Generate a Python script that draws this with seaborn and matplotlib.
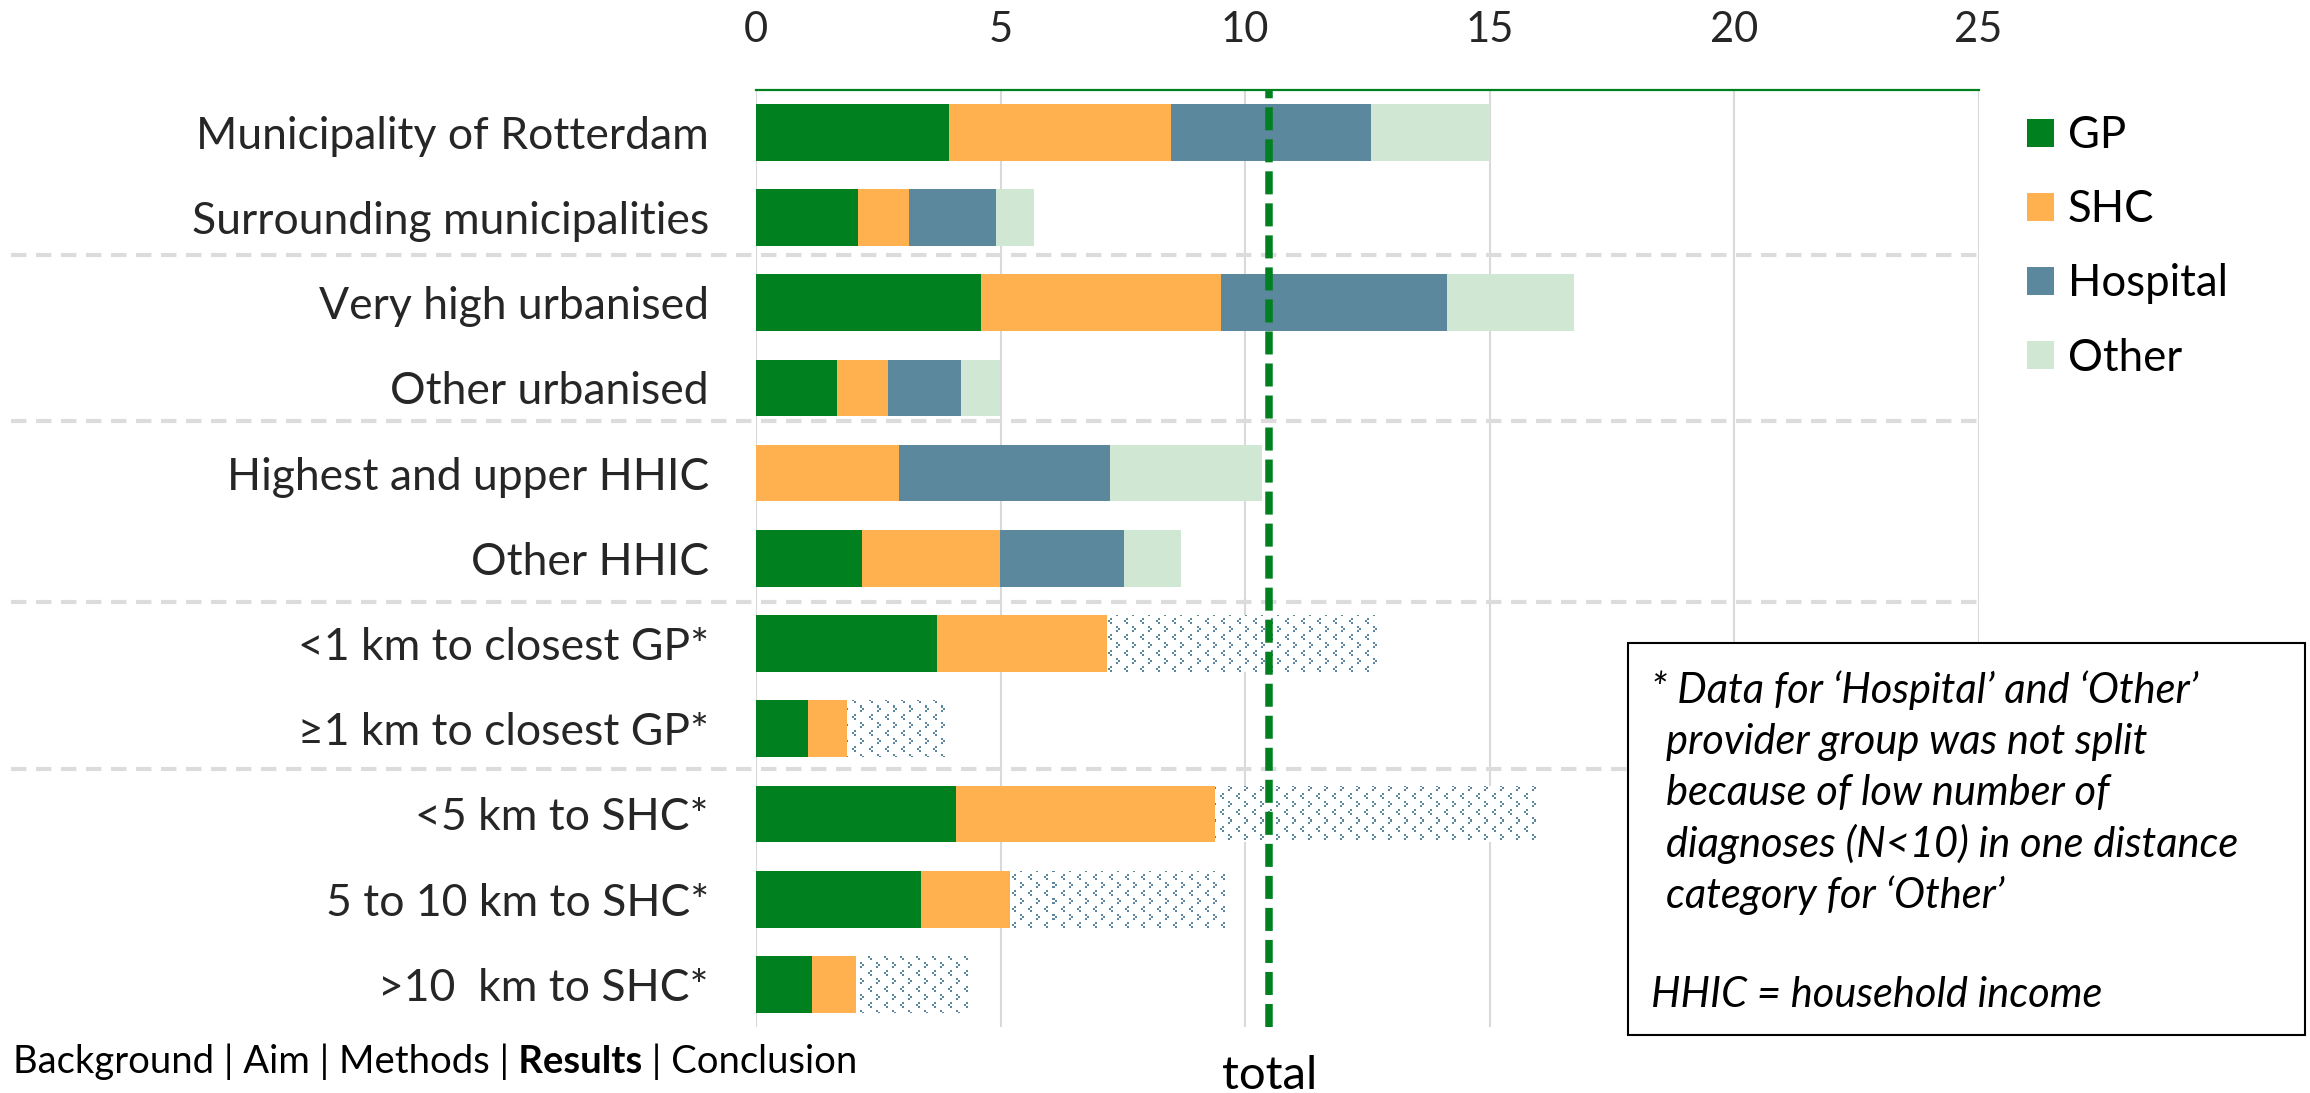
import numpy as np
import pandas as pd
import matplotlib
matplotlib.use("Agg")
import matplotlib.pyplot as plt
import seaborn as sns
from matplotlib.patches import Patch, Rectangle
from matplotlib import transforms
from matplotlib.colors import to_rgb

# ---- data ---------------------------------------------------------------
categories = [
    "Municipality of Rotterdam",
    "Surrounding municipalities",
    "Very high urbanised",
    "Other urbanised",
    "Highest and upper HHIC",
    "Other HHIC",
    "<1 km to closest GP*",
    "\u22651 km to closest GP*",
    "<5 km to SHC*",
    "5 to 10 km to SHC*",
    ">10  km to SHC*",
]
gp = [3.95, 2.08, 4.61, 1.66, 0.00, 2.17, 3.71, 1.06, 4.10, 3.38, 1.14]
shc = [4.54, 1.04, 4.89, 1.03, 2.93, 2.82, 3.47, 0.81, 5.29, 1.82, 0.91]
hospital = [4.08, 1.79, 4.64, 1.51, 4.31, 2.54, np.nan, np.nan, np.nan, np.nan, np.nan]
other = [2.44, 0.78, 2.58, 0.78, 3.11, 1.17, np.nan, np.nan, np.nan, np.nan, np.nan]
# Hospital + Other combined where the split was not possible
hospital_other = [np.nan] * 6 + [5.51, 2.04, 6.56, 4.44, 2.28]
total_rate = 10.5
x_ticks = [0, 5, 10, 15, 20, 25]
group_breaks = [1.44, 3.39, 5.51, 7.47]
legend_labels = ["GP", "SHC", "Hospital", "Other"]

note_lines = [
    "* Data for \u2018Hospital\u2019 and \u2018Other\u2019",
    "provider group was not split",
    "because of low number of",
    "diagnoses (N<10) in one distance",
    "category for \u2018Other\u2019",
]
note_footer = "HHIC = household income"
nav_items = [("Background | Aim | Methods |", "normal"),
             (" Results", "bold"),
             (" | Conclusion", "normal")]

# ---- style --------------------------------------------------------------
C_GP = "#00801F"
C_SHC = "#FFB14F"
C_HOSP = "#5B889C"
C_OTHER = "#CFE7D3"
C_GRID = "#D9D9D9"
C_SEP = "#DCDCDC"

sns.set_theme(style="white")
FONT = ["Lato", "DejaVu Sans"]
plt.rcParams["font.family"] = FONT
plt.rcParams["text.color"] = "black"

W_PX, H_PX = 2310, 1093
fig = plt.figure(figsize=(W_PX / 100, H_PX / 100), dpi=100)
fig.patch.set_facecolor("white")

ax_l, ax_r, ax_t, ax_b = 756, 1978.5, 89.7, 1027.0
ax = fig.add_axes([ax_l / W_PX, 1 - ax_b / H_PX,
                   (ax_r - ax_l) / W_PX, (ax_b - ax_t) / H_PX])

df = pd.DataFrame({
    "category": categories, "gp": gp, "shc": shc, "hospital": hospital,
    "other": other, "hospital_other": hospital_other,
})
split = df["hospital"].notna()
df["cum_shc"] = df["gp"] + df["shc"]
df["cum_hosp"] = df["cum_shc"] + df["hospital"]
df["cum_total"] = np.where(split, df["cum_hosp"] + df["other"],
                           df["cum_shc"] + df["hospital_other"])

BAR_W = 0.665


def layer(values, color, z):
    n0 = len(ax.patches)
    sns.barplot(x=values, y=df["category"], order=categories, orient="h",
                color=color, saturation=1, width=BAR_W, linewidth=0,
                errorbar=None, zorder=z, ax=ax)
    return ax.patches[n0:]


# stacked bars drawn back to front as cumulative lengths
layer(np.where(split, df["cum_total"], 0.0), C_OTHER, 1.0)
unsplit_bars = layer(np.where(~split, df["cum_total"], 0.0), "white", 1.0)
layer(np.where(split, df["cum_hosp"], 0.0), C_HOSP, 2.0)
layer(df["cum_shc"].values, C_SHC, 2.0)
layer(df["gp"].values, C_GP, 2.0)

n_cat = len(categories)
ax.set_xlim(0, 25)
ax.set_ylim(n_cat - 0.5, -0.5)

# zig-zag pattern fill for the unsplit Hospital/Other segment
hp = int(round(ax_b - ax_t))
wp = int(round(ax_r - ax_l))
tile = np.zeros((16, 16))
dots = [(0, 2), (2, 0), (4, 2),        # "<"
        (8, 8), (10, 10), (12, 8)]     # ">"
for r, c in dots:
    tile[r:r + 2, c:c + 2] = 1.0
mask = np.tile(tile, (hp // 16 + 1, wp // 16 + 1))[:hp, :wp]
tex = np.zeros((hp, wp, 4))
tex[..., :3] = to_rgb(C_HOSP)
tex[..., 3] = mask
for bar in unsplit_bars:
    if bar.get_width() <= 0:
        continue
    im = ax.imshow(tex, extent=(0, 25, n_cat - 0.5, -0.5),
                   origin="upper", aspect="auto", interpolation="nearest",
                   zorder=1.5)
    im.set_clip_path(bar)
ax.set_xlim(0, 25)
ax.set_ylim(n_cat - 0.5, -0.5)

# axes decoration
ax.set_xlabel("")
ax.set_ylabel("")
ax.set_xticks(x_ticks)
ax.xaxis.set_ticks_position("top")
ax.tick_params(axis="x", length=0, pad=29, labelsize=30)
ax.tick_params(axis="y", length=0, pad=34, labelsize=32)
for lab in ax.get_yticklabels() + ax.get_xticklabels():
    lab.set_family(FONT)
ax.grid(axis="x", color=C_GRID, linewidth=1.5)
ax.grid(axis="y", visible=False)
ax.set_axisbelow(True)
for side in ("left", "right", "bottom"):
    ax.spines[side].set_visible(False)
ax.spines["top"].set_color(C_GP)
ax.spines["top"].set_linewidth(1.6)
ax.spines["top"].set_zorder(3)

# total line
ax.axvline(total_rate, color=C_GP, linewidth=5.4, dashes=(3.07, 1.2), zorder=4)
tr_total = transforms.blended_transform_factory(ax.transData, fig.transFigure)
ax.text(total_rate, 1 - 1089 / H_PX, "total", transform=tr_total,
        ha="center", va="baseline", fontsize=34, clip_on=False)

# dashed group separators reaching into the label area
tr_sep = transforms.blended_transform_factory(fig.transFigure, ax.transData)
for yb in group_breaks:
    ax.plot([11 / W_PX, ax_r / W_PX], [yb, yb], transform=tr_sep,
            color=C_SEP, linewidth=3.0, dashes=(3.7, 2.3),
            clip_on=False, zorder=0.8)

# legend
handles = [Patch(facecolor=c, edgecolor="none")
           for c in (C_GP, C_SHC, C_HOSP, C_OTHER)]
fig.legend(handles, legend_labels, loc="upper left",
           bbox_to_anchor=(2027 / W_PX, 1 - 115 / H_PX),
           frameon=False, fontsize=31.5, handlelength=0.61, handleheight=0.61,
           handletextpad=0.32, labelspacing=0.76, borderpad=0, borderaxespad=0)

# note box
fig.add_artist(Rectangle((1628 / W_PX, 1 - 1035 / H_PX),
                         (2305 - 1628) / W_PX, (1035 - 643) / H_PX,
                         transform=fig.transFigure, facecolor="white",
                         edgecolor="black", linewidth=1.5, zorder=5))
baselines = [703, 754, 805, 857, 908]
for i, (line, yb) in enumerate(zip(note_lines, baselines)):
    xl = 1651 if i == 0 else 1666
    fig.text(xl / W_PX, 1 - yb / H_PX, line, fontsize=30, style="italic",
             va="baseline", ha="left", zorder=6)
fig.text(1651 / W_PX, 1 - 1007 / H_PX, note_footer, fontsize=30,
         style="italic", va="baseline", ha="left", zorder=6)

# navigation footer
renderer = fig.canvas.get_renderer()
x_nav = 13 / W_PX
for txt, weight in nav_items:
    t = fig.text(x_nav, 1 - 1073 / H_PX, txt, fontsize=27.5, weight=weight,
                 va="baseline", ha="left")
    x_nav += t.get_window_extent(renderer).width / fig.bbox.width

fig.savefig("out.png", dpi=100, facecolor="white")
